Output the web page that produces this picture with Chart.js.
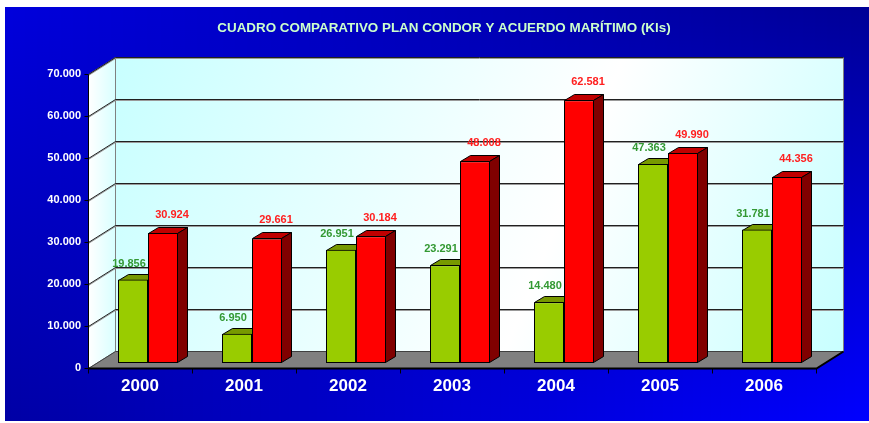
<!DOCTYPE html>
<html>
<head>
<meta charset="utf-8">
<script src="https://cdn.jsdelivr.net/npm/chart.js@4"></script>
<style>
  html, body { margin: 0; padding: 0; background: #fff; }
  canvas { display: block; }
</style>
</head>
<body>
<canvas id="chart" width="869" height="423"></canvas>
<script>
// Data
const chartTitle = 'CUADRO COMPARATIVO PLAN CONDOR Y ACUERDO MARÍTIMO (Kls)';
const years = ['2000', '2001', '2002', '2003', '2004', '2005', '2006'];
const planCondor = [19856, 6950, 26951, 23291, 14480, 47363, 31781];
const acuerdoMaritimo = [30924, 29661, 30184, 48008, 62581, 49990, 44356];
const yTicks = [0, 10000, 20000, 30000, 40000, 50000, 60000, 70000];

// 3D offsets, measured from the plane the bars stand in
const FRONT = { dx: -8, dy: 5 };
const BACK = { dx: 19, dy: -12 };
const BAR_DEPTH = { dx: 10, dy: -6 };

function fmt(v) {
  return String(v).replace(/\B(?=(\d{3})+(?!\d))/g, '.');
}
function lerp(a, b, t) {
  return a.map((c, i) => Math.round(c + (b[i] - c) * t));
}
function rgb(c) {
  return 'rgb(' + c.join(',') + ')';
}
function poly(ctx, pts, fill, stroke) {
  ctx.beginPath();
  ctx.moveTo(pts[0][0], pts[0][1]);
  for (let i = 1; i < pts.length; i++) ctx.lineTo(pts[i][0], pts[i][1]);
  ctx.closePath();
  if (fill) { ctx.fillStyle = fill; ctx.fill(); }
  if (stroke) { ctx.strokeStyle = stroke; ctx.lineWidth = 1; ctx.stroke(); }
}

const faceColors = [
  { top: '#779900', side: '#4d6600', label: '#339933', offX: -4, offY: 16 },
  { top: '#c00000', side: '#800000', label: '#ff2020', offX: 9, offY: 18 }
];

function drawBarFaces(chart, index) {
  const ctx = chart.ctx;
  const c = faceColors[index];
  ctx.save();
  chart.getDatasetMeta(index).data.forEach(bar => {
    const p = bar.getProps(['x', 'y', 'base', 'width'], true);
    const l = Math.round(p.x - p.width / 2) + 0.5, r = Math.round(p.x + p.width / 2) - 0.5;
    const t = Math.round(p.y) + 0.5, b = Math.round(p.base) - 0.5;
    const dx = BAR_DEPTH.dx, dy = BAR_DEPTH.dy;
    poly(ctx, [[l, t], [l + dx, t + dy], [r + dx, t + dy], [r, t]], c.top, '#000');
    poly(ctx, [[r, t], [r + dx, t + dy], [r + dx, b + dy], [r, b]], c.side, '#000');
  });
  ctx.restore();
}

// Background, title, walls, floor, grid and axes behind the bars
const scene3d = {
  id: 'scene3d',
  beforeDraw(chart) {
    const ctx = chart.ctx;
    const area = chart.chartArea;
    const y = chart.scales.y;
    ctx.save();
    ctx.fillStyle = '#fff';
    ctx.fillRect(0, 0, chart.width, chart.height);

    // blue background
    const x0 = 5, y0 = 7, x1 = chart.width, y1 = chart.height - 2;
    for (let x = x0; x < x1; x += 2) {
      const t = (x - x0) / (x1 - x0);
      const g = ctx.createLinearGradient(0, y0, 0, y1);
      g.addColorStop(0, rgb(lerp([0, 0, 220], [0, 0, 150], t)));
      g.addColorStop(1, rgb(lerp([0, 0, 165], [0, 0, 255], t)));
      ctx.fillStyle = g;
      ctx.fillRect(x, y0, 2, y1 - y0);
    }

    // title
    ctx.font = 'bold 13.4px "Liberation Sans", Arial, sans-serif';
    ctx.fillStyle = '#ccffcc';
    ctx.textAlign = 'center';
    ctx.textBaseline = 'middle';
    ctx.fillText(chartTitle, 444, 28);

    const top = Math.round(y.getPixelForValue(y.max));
    const bottom = Math.round(y.getPixelForValue(0));
    const fl = Math.round(area.left + FRONT.dx) + 0.5, fr = Math.round(area.right + FRONT.dx) + 0.5;
    const bl = Math.round(area.left + BACK.dx) + 0.5, br = Math.round(area.right + BACK.dx) + 0.5;
    const fTop = top + FRONT.dy + 0.5, fBot = bottom + FRONT.dy + 0.5;
    const bTop = top + BACK.dy + 0.5, bBot = bottom + BACK.dy + 0.5;

    // back wall
    const wg = ctx.createLinearGradient(bl, bTop, br, bBot);
    wg.addColorStop(0, '#c8ffff');
    wg.addColorStop(0.6, '#ffffff');
    wg.addColorStop(1, '#c8ffff');
    poly(ctx, [[bl, bTop], [br, bTop], [br, bBot], [bl, bBot]], wg, '#808080');

    // left wall
    const lg = ctx.createLinearGradient(fl, 0, bl, 0);
    lg.addColorStop(0, '#ffffff');
    lg.addColorStop(1, '#d8ffff');
    poly(ctx, [[fl, fTop], [bl, bTop], [bl, bBot], [fl, fBot]], lg, '#808080');

    // grid lines
    yTicks.forEach(v => {
      if (v === 0) return;
      const p = Math.round(y.getPixelForValue(v));
      const yf = p + FRONT.dy + 0.5, yb = p + BACK.dy + 0.5;
      ctx.beginPath();
      ctx.moveTo(fl, yf + 1); ctx.lineTo(bl, yb + 1); ctx.lineTo(br, yb + 1);
      ctx.strokeStyle = '#9a9a9a'; ctx.lineWidth = 1; ctx.stroke();
      ctx.beginPath();
      ctx.moveTo(fl, yf); ctx.lineTo(bl, yb); ctx.lineTo(br, yb);
      ctx.strokeStyle = '#202020'; ctx.stroke();
    });

    // floor
    poly(ctx, [[fl, fBot], [fr, fBot], [br, bBot], [bl, bBot]], '#808080', '#404040');

    // front axes
    ctx.strokeStyle = '#000';
    ctx.lineWidth = 1;
    ctx.beginPath();
    ctx.moveTo(fl, fTop); ctx.lineTo(fl, fBot);
    yTicks.forEach(v => {
      const yf = Math.round(y.getPixelForValue(v)) + FRONT.dy + 0.5;
      ctx.moveTo(fl - 4, yf); ctx.lineTo(fl, yf);
    });
    const step = (area.right - area.left) / years.length;
    for (let i = 0; i <= years.length; i++) {
      const xf = Math.round(area.left + i * step + FRONT.dx) + 0.5;
      ctx.moveTo(xf, fBot); ctx.lineTo(xf, fBot + 5);
    }
    ctx.stroke();
    ctx.lineWidth = 2;
    ctx.beginPath();
    ctx.moveTo(fl, fBot); ctx.lineTo(fr, fBot); ctx.lineTo(br, bBot);
    ctx.stroke();
    ctx.restore();
  },

  // green tops/sides go under the red fronts, red tops/sides on top of all
  beforeDatasetsDraw(chart) {
    drawBarFaces(chart, 0);
  },

  afterDatasetsDraw(chart) {
    drawBarFaces(chart, 1);
    const ctx = chart.ctx;
    ctx.save();
    ctx.font = 'bold 11px "Liberation Sans", Arial, sans-serif';
    ctx.textAlign = 'center';
    ctx.textBaseline = 'middle';
    chart.data.datasets.forEach((ds, i) => {
      const c = faceColors[i];
      chart.getDatasetMeta(i).data.forEach((bar, j) => {
        const p = bar.getProps(['x', 'y'], true);
        ctx.fillStyle = c.label;
        ctx.fillText(fmt(ds.data[j]), p.x + c.offX, p.y - c.offY);
      });
    });
    ctx.restore();
  }
};

Chart.defaults.font.family = '"Liberation Sans", Arial, sans-serif';

const ctx = document.getElementById('chart').getContext('2d');
const myChart = new Chart(ctx, {
  type: 'bar',
  data: {
    labels: years,
    datasets: [{
      label: 'Plan Condor',
      data: planCondor,
      backgroundColor: '#99cc00',
      borderColor: '#000',
      borderWidth: 1,
      borderSkipped: false
    }, {
      label: 'Acuerdo Marítimo',
      data: acuerdoMaritimo,
      backgroundColor: '#ff0000',
      borderColor: '#000',
      borderWidth: 1,
      borderSkipped: false
    }]
  },
  options: {
    responsive: false,
    animation: false,
    categoryPercentage: 60 / 104,
    barPercentage: 1,
    layout: { padding: { left: 0, right: 45, top: 69, bottom: 0 } },
    plugins: {
      legend: { display: false },
      tooltip: { enabled: false },
      title: { display: false }
    },
    scales: {
      x: {
        grid: { display: false, drawTicks: false },
        border: { display: false },
        ticks: {
          color: '#fff',
          font: { size: 17, weight: 'bold' },
          padding: 13,
          labelOffset: -8
        },
        afterFit(scale) { scale.height = 60; }
      },
      y: {
        min: 0,
        max: 70000,
        grid: { display: false, drawTicks: false },
        border: { display: false },
        ticks: {
          color: '#fff',
          font: { size: 11, weight: 'bold' },
          padding: 15,
          labelOffset: 5,
          callback: v => fmt(v)
        },
        afterBuildTicks(scale) { scale.ticks = yTicks.map(v => ({ value: v })); },
        afterFit(scale) { scale.width = 96; }
      }
    }
  },
  plugins: [scene3d]
});
</script>
</body>
</html>
